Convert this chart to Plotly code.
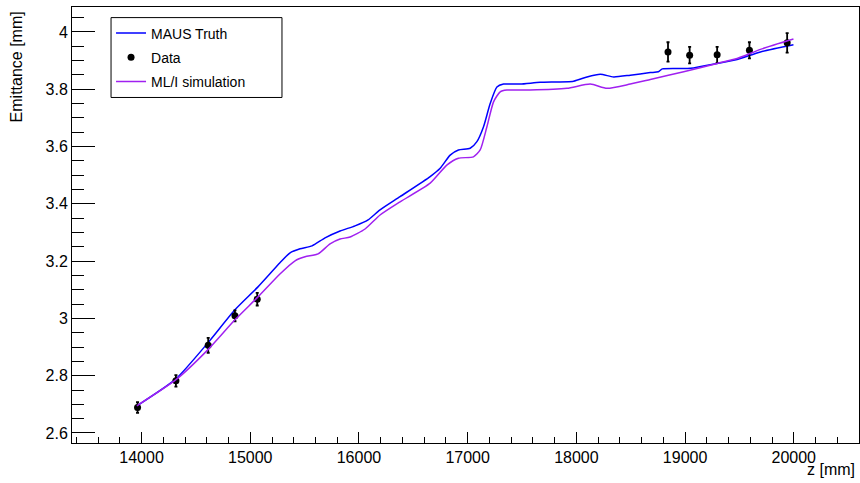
import plotly.graph_objects as go

# MAUS Truth curve
maus_z = [13957, 14316, 14611, 14859, 15071, 15273, 15366, 15458, 15568, 15688,
          15826, 15964, 16084, 16194, 16378, 16655, 16747, 16839, 16915, 17023,
          17085, 17146, 17207, 17269, 17330, 17483, 17667, 17974, 18098, 18220,
          18343, 18496, 18680, 18754, 18791, 19049, 19295, 19479, 19693, 19997]
maus_e = [2.695, 2.789, 2.915, 3.030, 3.110, 3.194, 3.229, 3.243, 3.253, 3.281,
          3.305, 3.323, 3.344, 3.379, 3.425, 3.495, 3.524, 3.570, 3.588, 3.594,
          3.617, 3.669, 3.750, 3.808, 3.818, 3.818, 3.824, 3.828, 3.843, 3.852,
          3.843, 3.849, 3.858, 3.861, 3.871, 3.873, 3.890, 3.904, 3.930, 3.955]

# ML/I simulation curve
mli_z = [13957, 14316, 14611, 14859, 15071, 15273, 15412, 15504, 15624, 15734,
         15826, 15918, 16056, 16194, 16378, 16655, 16808, 16915, 17053, 17115,
         17177, 17238, 17299, 17361, 17575, 17913, 18128, 18282, 18496, 18680,
         18987, 19295, 19479, 19693, 19997]
mli_e = [2.695, 2.786, 2.891, 2.995, 3.075, 3.155, 3.201, 3.215, 3.225, 3.260,
         3.277, 3.284, 3.312, 3.361, 3.407, 3.472, 3.535, 3.559, 3.564, 3.588,
         3.669, 3.756, 3.791, 3.797, 3.797, 3.803, 3.818, 3.803, 3.818, 3.834,
         3.861, 3.890, 3.907, 3.939, 3.975]

# Data points
data_z = [13963, 14316, 14613, 14859, 15064, 18843, 19042, 19295, 19592, 19939]
data_e = [2.689, 2.782, 2.906, 3.009, 3.067, 3.930, 3.919, 3.920, 3.936, 3.962]
data_err = [0.019, 0.020, 0.026, 0.019, 0.022, 0.034, 0.029, 0.028, 0.028, 0.034]

FONT = "Liberation Sans, Arial, Helvetica, sans-serif"

fig = go.Figure()
fig.add_trace(go.Scatter(
    x=maus_z, y=maus_e, mode="lines", name="MAUS Truth", legendgroup="a",
    line=dict(color="#0000ff", width=1.5, shape="spline", smoothing=0.6)))
fig.add_trace(go.Scatter(
    x=data_z, y=data_e, mode="markers", name="Data", legendgroup="b",
    marker=dict(color="black", size=7, symbol="circle"),
    error_y=dict(type="data", array=data_err, color="black", thickness=1.8, width=1.5)))
fig.add_trace(go.Scatter(
    x=mli_z, y=mli_e, mode="lines", name="ML/I simulation", legendgroup="c",
    line=dict(color="#a020f0", width=1.5, shape="spline", smoothing=0.6)))

axis_common = dict(
    showgrid=False, zeroline=False, showline=True, linecolor="black", linewidth=1,
    mirror=True, ticks="inside", tickcolor="black", tickwidth=1,
    tickfont=dict(family=FONT, size=16, color="black"),
)

fig.update_xaxes(
    **axis_common, range=[13360, 20600], dtick=1000, tick0=0, ticklen=11,
    tickformat="d",
    minor=dict(ticks="inside", ticklen=6, dtick=200, tickcolor="black", tickwidth=1),
)
fig.update_yaxes(
    **axis_common, range=[2.565, 4.087], dtick=0.2, tick0=0, ticklen=23,
    minor=dict(ticks="inside", ticklen=12, dtick=0.05, tickcolor="black", tickwidth=1),
)

fig.update_layout(
    width=860, height=483,
    margin=dict(l=72, r=1, t=7, b=40),
    paper_bgcolor="white", plot_bgcolor="white",
    font=dict(family=FONT, size=14, color="black"),
    showlegend=True,
    legend=dict(
        x=0.0496, y=0.976, xanchor="left", yanchor="top",
        bgcolor="rgba(0,0,0,0)", borderwidth=0,
        font=dict(family=FONT, size=14, color="black"),
        tracegroupgap=3, itemwidth=30,
    ),
    shapes=[
        dict(type="rect", xref="paper", yref="paper",
             x0=0.0496, x1=0.2668, y0=0.7925, y1=0.9757,
             line=dict(color="black", width=1), fillcolor="white", layer="above"),
    ],
    annotations=[
        dict(text="Emittance [mm]", xref="paper", yref="paper",
             x=-0.07, y=1, xanchor="center", yanchor="top", yshift=-2,
             textangle=-90, showarrow=False,
             font=dict(family=FONT, size=16, color="black")),
        dict(text="z [mm]", xref="paper", yref="paper",
             x=0.9975, y=-0.061, xanchor="right", yanchor="middle",
             showarrow=False, font=dict(family=FONT, size=16, color="black")),
    ],
)

fig.write_html("out.html")
